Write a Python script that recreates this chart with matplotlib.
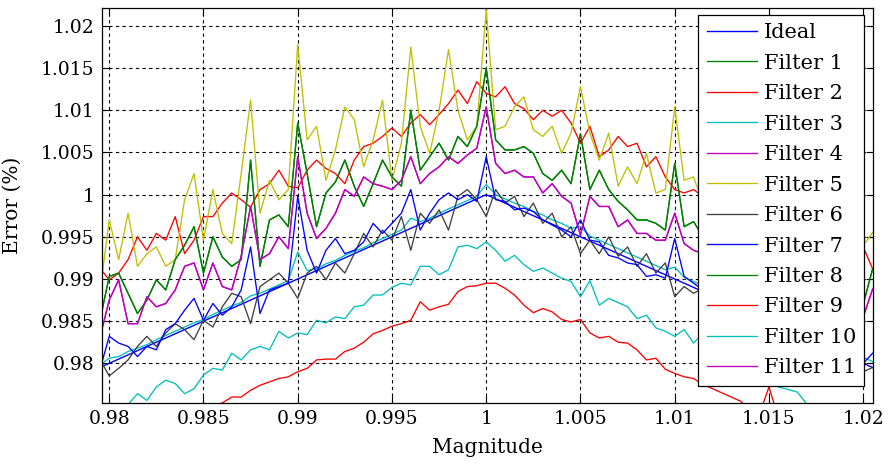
"""
Magnitude error of the eleven filter variants against the ideal response.
Values read off the reference plot on a 0.0005 magnitude grid.
"""
import numpy as np
import matplotlib
matplotlib.use("Agg")
import matplotlib.pyplot as plt
from matplotlib.ticker import FuncFormatter, MultipleLocator

# magnitude grid shared by all filter curves (0.9795 ... 1.0205)
MAGNITUDE = np.round(0.9795 + 0.0005 * np.arange(83), 4)

IDEAL_X = [0.9795, 1.0, 1.0205]
IDEAL_Y = [0.9795, 1.0, 0.9795]

FILTER_1 = [0.9850, 0.9903, 0.9907, 0.9883, 0.9859, 0.9875, 0.9899, 0.9887, 0.9923, 0.9940,
            0.9962, 0.9907, 0.9950, 0.9926, 0.9915, 0.9923, 1.0041, 0.9915, 0.9970, 0.9976,
            0.9962, 1.0085, 1.0025, 0.9962, 1.0002, 1.0015, 1.0041, 1.0010, 0.9986, 1.0013,
            1.0041, 1.0021, 1.0010, 1.0100, 1.0029, 1.0045, 1.0061, 1.0041, 1.0069, 1.0057,
            1.0081, 1.0150, 1.0065, 1.0053, 1.0053, 1.0057, 1.0049, 1.0025, 1.0017, 1.0029,
            1.0013, 1.0072, 1.0006, 1.0029, 1.0006, 0.9992, 0.9982, 0.9970, 0.9970, 0.9966,
            0.9958, 1.0037, 0.9962, 0.9968, 0.9950, 0.9958, 0.9945, 0.9952, 0.9940, 0.9948,
            0.9935, 0.9955, 0.9930, 0.9938, 0.9925, 0.9932, 0.9920, 0.9926, 0.9912, 0.9920,
            0.9905, 0.9870, 0.9912]

FILTER_2 = [0.9913, 0.9899, 0.9907, 0.9923, 0.9950, 0.9934, 0.9954, 0.9946, 0.9974, 0.9930,
            0.9946, 0.9974, 0.9974, 0.9990, 1.0002, 0.9994, 0.9985, 1.0006, 1.0013, 1.0029,
            1.0010, 1.0008, 1.0029, 1.0041, 1.0031, 1.0025, 1.0013, 1.0041, 1.0057, 1.0061,
            1.0069, 1.0079, 1.0069, 1.0085, 1.0095, 1.0083, 1.0095, 1.0108, 1.0124, 1.0108,
            1.0134, 1.0120, 1.0116, 1.0128, 1.0108, 1.0102, 1.0089, 1.0100, 1.0093, 1.0100,
            1.0085, 1.0061, 1.0081, 1.0045, 1.0053, 1.0069, 1.0057, 1.0061, 1.0033, 1.0045,
            1.0021, 1.0006, 1.0002, 1.0006, 0.9998, 1.0002, 0.9985, 0.9995, 0.9980, 0.9990,
            0.9975, 0.9985, 0.9970, 0.9978, 0.9962, 0.9970, 0.9955, 0.9962, 0.9948, 0.9955,
            0.9945, 0.9938, 0.9912]

FILTER_3 = [0.9798, 0.9806, 0.9808, 0.9814, 0.9818, 0.9822, 0.9828, 0.9833, 0.9838, 0.9843,
            0.9848, 0.9852, 0.9858, 0.9863, 0.9868, 0.9872, 0.9880, 0.9883, 0.9888, 0.9893,
            0.9898, 0.9932, 0.9910, 0.9912, 0.9918, 0.9922, 0.9928, 0.9933, 0.9937, 0.9943,
            0.9948, 0.9953, 0.9958, 0.9972, 0.9968, 0.9972, 0.9978, 0.9983, 0.9988, 0.9993,
            0.9998, 1.0012, 1.0000, 0.9995, 0.9990, 0.9986, 0.9980, 0.9976, 0.9970, 0.9966,
            0.9960, 0.9962, 0.9951, 0.9946, 0.9941, 0.9936, 0.9931, 0.9926, 0.9921, 0.9916,
            0.9911, 0.9914, 0.9902, 0.9897, 0.9892, 0.9887, 0.9882, 0.9877, 0.9872, 0.9867,
            0.9862, 0.9860, 0.9852, 0.9847, 0.9842, 0.9837, 0.9832, 0.9827, 0.9822, 0.9817,
            0.9812, 0.9807, 0.9802]

FILTER_4 = [0.9830, 0.9875, 0.9899, 0.9847, 0.9847, 0.9879, 0.9867, 0.9871, 0.9887, 0.9915,
            0.9919, 0.9887, 0.9919, 0.9891, 0.9887, 0.9927, 0.9986, 0.9923, 0.9930, 0.9950,
            0.9936, 1.0045, 0.9978, 0.9948, 0.9960, 0.9978, 1.0006, 0.9998, 1.0021, 1.0013,
            1.0010, 1.0006, 1.0017, 1.0045, 1.0013, 1.0025, 1.0033, 1.0045, 1.0037, 1.0047,
            1.0055, 1.0104, 1.0037, 1.0025, 1.0029, 1.0021, 1.0021, 1.0002, 1.0013, 0.9998,
            0.9990, 0.9952, 0.9998, 0.9986, 0.9986, 0.9962, 0.9970, 0.9954, 0.9954, 0.9946,
            0.9946, 0.9978, 0.9942, 0.9934, 0.9930, 0.9936, 0.9925, 0.9930, 0.9920, 0.9926,
            0.9912, 0.9935, 0.9905, 0.9912, 0.9898, 0.9905, 0.9892, 0.9898, 0.9885, 0.9890,
            0.9878, 0.9855, 0.9888]

FILTER_5 = [0.9883, 0.9970, 0.9923, 0.9978, 0.9915, 0.9930, 0.9938, 0.9915, 0.9923, 0.9994,
            1.0025, 0.9946, 1.0006, 0.9954, 0.9942, 1.0025, 1.0112, 0.9978, 1.0017, 0.9994,
            1.0006, 1.0178, 1.0065, 1.0081, 1.0017, 1.0053, 1.0104, 1.0089, 1.0033, 1.0065,
            1.0112, 1.0017, 1.0061, 1.0175, 1.0081, 1.0049, 1.0100, 1.0172, 1.0100, 1.0065,
            1.0081, 1.0219, 1.0077, 1.0081, 1.0104, 1.0116, 1.0077, 1.0069, 1.0081, 1.0049,
            1.0073, 1.0128, 1.0073, 1.0041, 1.0073, 1.0010, 1.0033, 1.0013, 1.0049, 1.0002,
            1.0006, 1.0104, 1.0017, 1.0021, 0.9990, 1.0015, 0.9995, 1.0005, 0.9985, 1.0000,
            0.9980, 1.0035, 0.9975, 0.9985, 0.9965, 0.9980, 0.9960, 0.9975, 0.9955, 0.9965,
            0.9950, 0.9940, 0.9955]

FILTER_6 = [0.9805, 0.9785, 0.9794, 0.9804, 0.9820, 0.9832, 0.9820, 0.9836, 0.9847, 0.9840,
            0.9828, 0.9851, 0.9843, 0.9867, 0.9883, 0.9879, 0.9847, 0.9891, 0.9899, 0.9907,
            0.9895, 0.9877, 0.9907, 0.9915, 0.9899, 0.9919, 0.9907, 0.9930, 0.9954, 0.9938,
            0.9958, 0.9946, 0.9974, 0.9934, 0.9978, 0.9966, 0.9982, 0.9958, 0.9998, 1.0006,
            0.9994, 0.9974, 1.0006, 0.9990, 0.9998, 0.9974, 0.9990, 0.9966, 0.9978, 0.9950,
            0.9962, 0.9930, 0.9946, 0.9930, 0.9950, 0.9927, 0.9938, 0.9915, 0.9930, 0.9907,
            0.9919, 0.9879, 0.9891, 0.9883, 0.9889, 0.9878, 0.9872, 0.9866, 0.9862, 0.9855,
            0.9852, 0.9838, 0.9843, 0.9835, 0.9832, 0.9825, 0.9822, 0.9815, 0.9812, 0.9805,
            0.9802, 0.9790, 0.9795]

FILTER_7 = [0.9792, 0.9832, 0.9824, 0.9820, 0.9808, 0.9820, 0.9816, 0.9840, 0.9847, 0.9863,
            0.9877, 0.9851, 0.9871, 0.9857, 0.9867, 0.9887, 0.9938, 0.9859, 0.9887, 0.9891,
            0.9895, 0.9998, 0.9934, 0.9907, 0.9934, 0.9948, 0.9930, 0.9934, 0.9944, 0.9966,
            0.9954, 0.9966, 0.9978, 1.0006, 0.9958, 0.9978, 0.9994, 1.0002, 0.9994, 1.0000,
            0.9992, 1.0045, 0.9994, 0.9992, 0.9982, 0.9984, 0.9980, 0.9970, 0.9964, 0.9958,
            0.9950, 0.9970, 0.9946, 0.9944, 0.9928, 0.9925, 0.9919, 0.9917, 0.9903, 0.9905,
            0.9901, 0.9948, 0.9903, 0.9895, 0.9887, 0.9885, 0.9876, 0.9872, 0.9866, 0.9862,
            0.9855, 0.9872, 0.9845, 0.9842, 0.9836, 0.9832, 0.9826, 0.9823, 0.9818, 0.9815,
            0.9808, 0.9800, 0.9812]

# filters 8 and 11 lie on top of filters 1 and 4 in the reference
FILTER_8 = list(FILTER_1)

FILTER_9 = [0.9700, 0.9706, 0.9710, 0.9716, 0.9720, 0.9724, 0.9730, 0.9734, 0.9738, 0.9740,
            0.9744, 0.9746, 0.9750, 0.9753, 0.9760, 0.9760, 0.9768, 0.9774, 0.9778, 0.9782,
            0.9784, 0.9790, 0.9794, 0.9804, 0.9805, 0.9805, 0.9814, 0.9818, 0.9825, 0.9835,
            0.9839, 0.9844, 0.9847, 0.9851, 0.9873, 0.9863, 0.9867, 0.9870, 0.9885, 0.9891,
            0.9892, 0.9895, 0.9895, 0.9889, 0.9881, 0.9869, 0.9860, 0.9865, 0.9861, 0.9852,
            0.9849, 0.9852, 0.9836, 0.9830, 0.9832, 0.9825, 0.9824, 0.9816, 0.9804, 0.9806,
            0.9793, 0.9788, 0.9784, 0.9782, 0.9775, 0.9770, 0.9765, 0.9760, 0.9755, 0.9745,
            0.9740, 0.9772, 0.9735, 0.9730, 0.9727, 0.9724, 0.9720, 0.9716, 0.9712, 0.9708,
            0.9705, 0.9702, 0.9700]

FILTER_10 = [0.9735, 0.9742, 0.9746, 0.9751, 0.9764, 0.9756, 0.9772, 0.9780, 0.9776, 0.9764,
             0.9770, 0.9786, 0.9794, 0.9792, 0.9812, 0.9804, 0.9816, 0.9820, 0.9816, 0.9838,
             0.9830, 0.9836, 0.9834, 0.9851, 0.9848, 0.9855, 0.9853, 0.9867, 0.9869, 0.9881,
             0.9881, 0.9890, 0.9895, 0.9893, 0.9915, 0.9915, 0.9905, 0.9911, 0.9938, 0.9940,
             0.9936, 0.9944, 0.9934, 0.9921, 0.9928, 0.9917, 0.9909, 0.9913, 0.9907, 0.9901,
             0.9897, 0.9879, 0.9898, 0.9869, 0.9877, 0.9872, 0.9867, 0.9853, 0.9857, 0.9842,
             0.9838, 0.9832, 0.9840, 0.9824, 0.9836, 0.9826, 0.9818, 0.9812, 0.9805, 0.9800,
             0.9792, 0.9785, 0.9772, 0.9769, 0.9766, 0.9752, 0.9745, 0.9740, 0.9736, 0.9732,
             0.9728, 0.9724, 0.9720]

FILTER_11 = list(FILTER_4)

LABELS = ["Ideal"] + [f"Filter {i}" for i in range(1, 12)]
# MATLAB-style colour order, repeating after Filter 6
COLORS = ["#0000ff", "#008000", "#ff0000", "#00bfbf", "#bf00bf", "#bfbf00",
          "#404040", "#0000ff", "#008000", "#ff0000", "#00bfbf", "#bf00bf"]

FONT = "DejaVu Serif"
FS = 13.5
LEG_FS = 15


def _fmt(v, _pos):
    return f"{v:g}"


def main():
    plt.rcParams["font.family"] = FONT
    plt.rcParams["font.size"] = FS

    fig = plt.figure(figsize=(8.88, 4.65), dpi=100)
    ax = fig.add_axes([0.1145, 0.134, 0.8682, 0.8482])

    filters = [FILTER_1, FILTER_2, FILTER_3, FILTER_4, FILTER_5, FILTER_6,
               FILTER_7, FILTER_8, FILTER_9, FILTER_10, FILTER_11]

    ax.plot(IDEAL_X, IDEAL_Y, color=COLORS[0], lw=1.0, label=LABELS[0])
    for vals, lab, col in zip(filters, LABELS[1:], COLORS[1:]):
        ax.plot(MAGNITUDE, vals, color=col, lw=0.95, label=lab)

    ax.set_xlim(0.9796, 1.0205)
    ax.set_ylim(0.97533, 1.0221)
    ax.xaxis.set_major_locator(MultipleLocator(0.005))
    ax.yaxis.set_major_locator(MultipleLocator(0.005))
    ax.xaxis.set_major_formatter(FuncFormatter(_fmt))
    ax.yaxis.set_major_formatter(FuncFormatter(_fmt))
    ax.tick_params(direction="in", top=True, right=True, length=5, width=0.8,
                   labelsize=FS, pad=5)
    ax.grid(True, color="black", ls=(0, (3, 3)), lw=0.8)
    for sp in ax.spines.values():
        sp.set_linewidth(0.9)

    ax.set_xlabel("Magnitude", fontsize=14.5)
    ax.set_ylabel("Error (%)", fontsize=14.5)
    ax.xaxis.set_label_coords(0.5, -0.09)
    ax.yaxis.set_label_coords(-0.103, 0.5)

    leg = ax.legend(loc="upper right", bbox_to_anchor=(864.3 / 888, 1 - 15 / 465),
                    bbox_transform=fig.transFigure, borderaxespad=0,
                    fancybox=False, framealpha=1, edgecolor="black",
                    fontsize=LEG_FS, handlelength=2.4, handletextpad=0.33,
                    labelspacing=0.55, borderpad=0.4)
    leg.get_frame().set_linewidth(0.9)

    fig.savefig("out.png", dpi=100)
    plt.close(fig)


if __name__ == "__main__":
    main()
